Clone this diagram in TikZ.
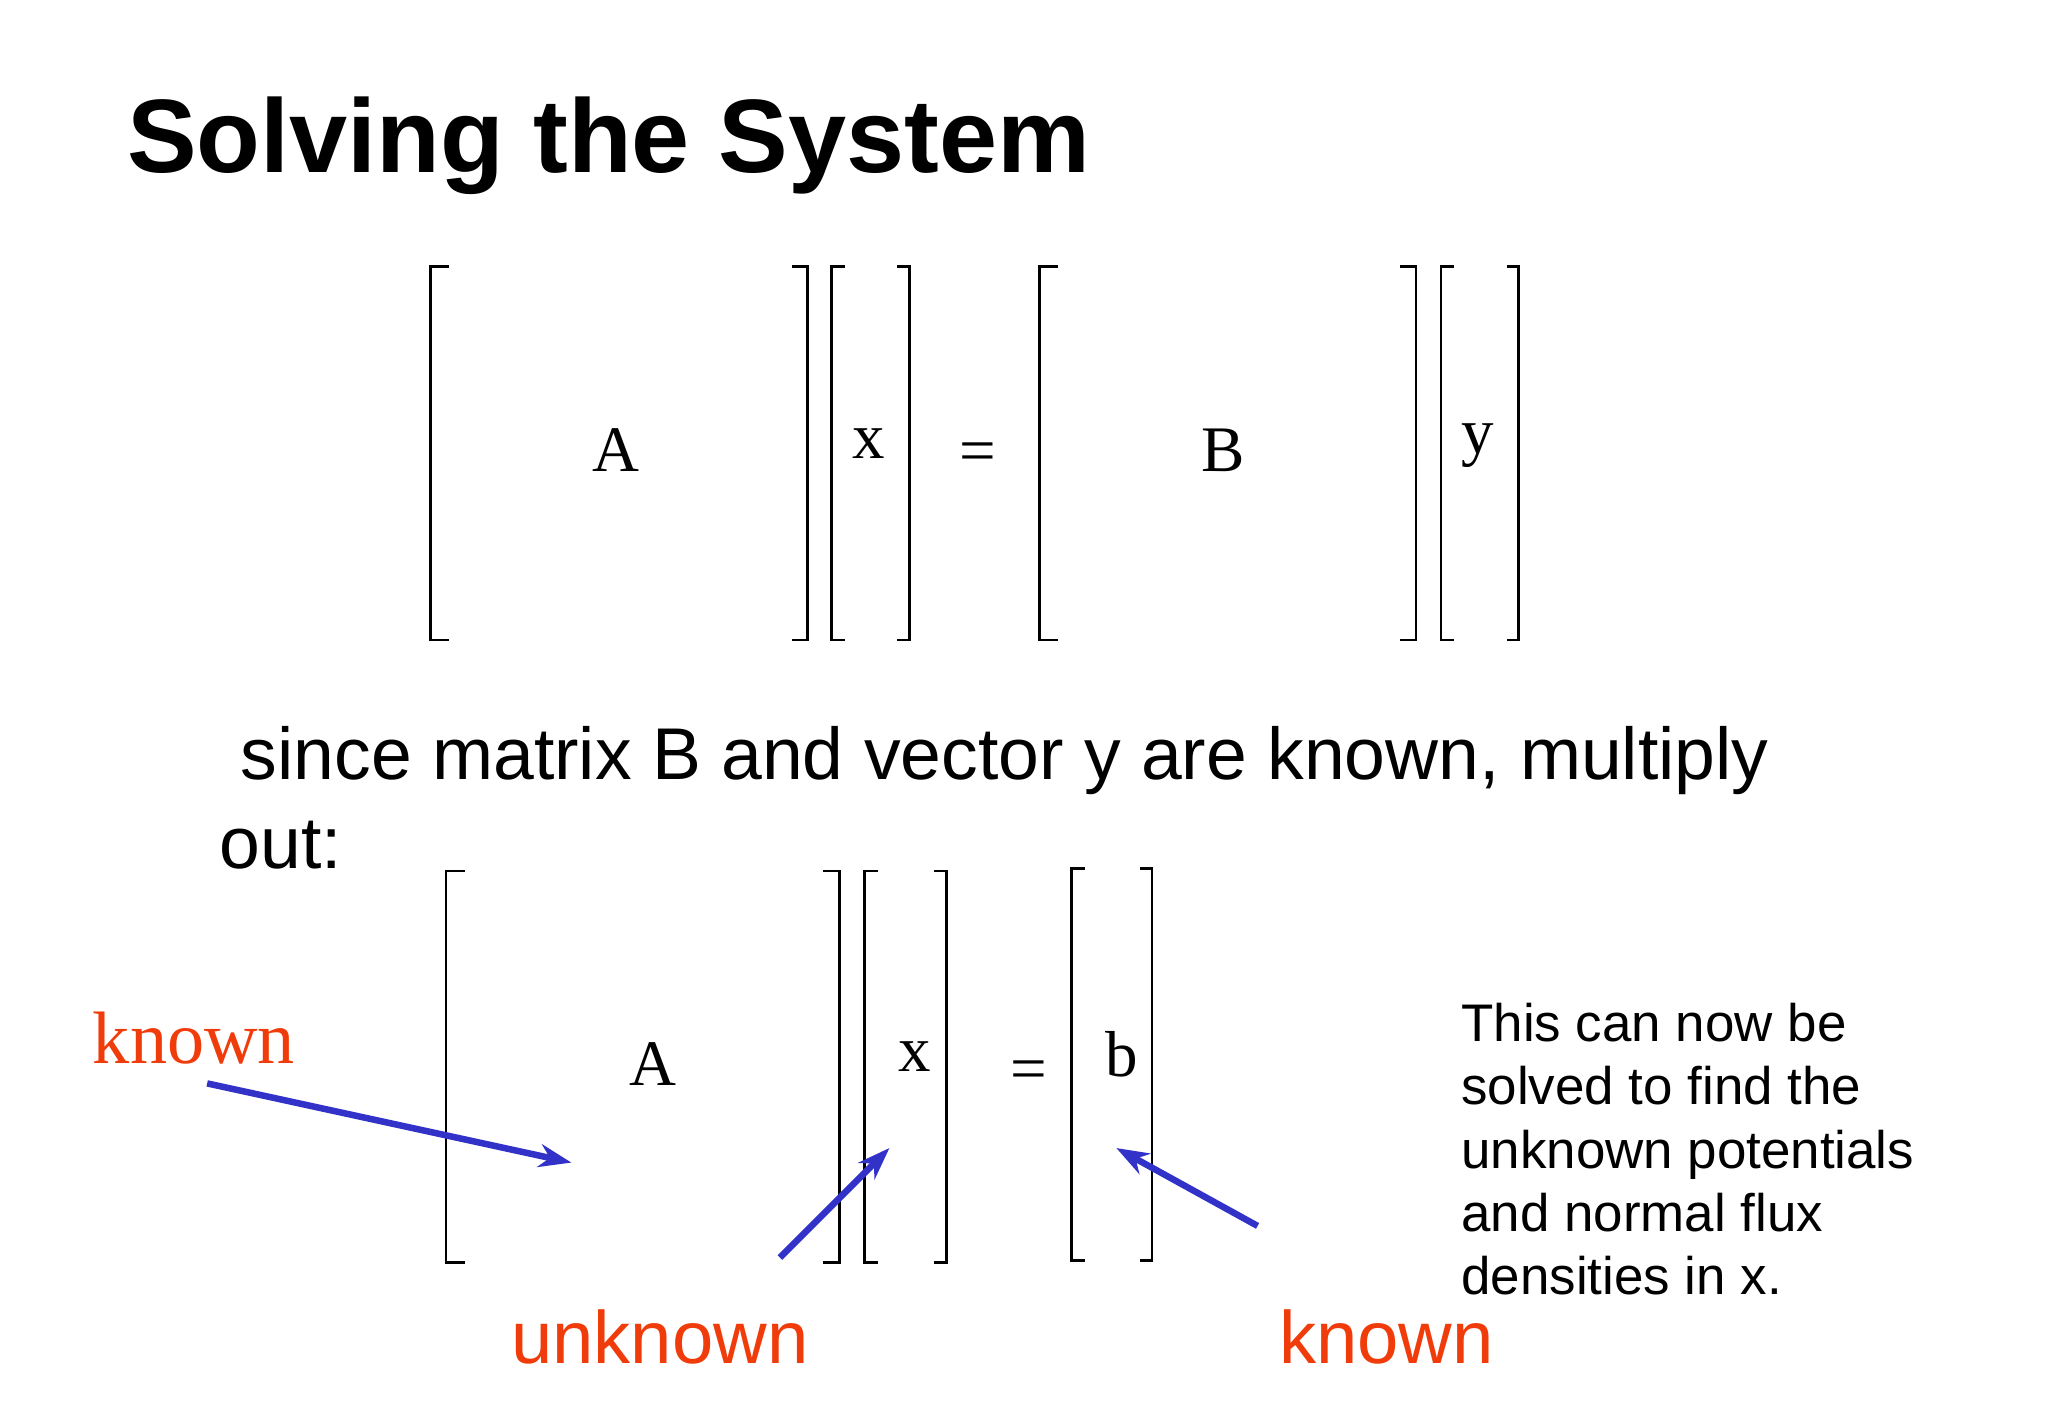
\documentclass[tikz,border=0pt]{standalone}
\usepackage{fontspec}
\usetikzlibrary{arrows.meta}
\setmainfont{Liberation Sans}
\newfontfamily\serifx{Liberation Serif}
\definecolor{kred}{RGB}{240,60,10}
\definecolor{ablue}{RGB}{50,50,200}
\begin{document}
\begin{tikzpicture}[x=0.01cm,y=-0.01cm,
  brk/.style={line width=0.6pt},
  mlab/.style={font=\serifx\fontsize{14}{14}\selectfont},
  arr/.style={ablue,line width=1.4pt,-{Stealth[length=7pt,width=5pt]}}]
\useasboundingbox (0,0) rectangle (1552,1075);
\node[anchor=base west,font=\bfseries\fontsize{22.5}{22.5}\selectfont] (title) at (84,131) {Solving the System};
% top equation
\newcommand\lbr[4]{\draw[brk] (#1+#4,#2)--(#1,#2)--(#1,#3)--(#1+#4,#3);}
\lbr{326}{202}{485}{14}
\lbr{612}{202}{485}{-12}
\lbr{630}{202}{485}{10}
\lbr{689}{202}{485}{-9}
\lbr{788}{202}{485}{14}
\lbr{1073}{202}{485}{-12}
\lbr{1092}{202}{485}{10}
\lbr{1151}{202}{485}{-9}
\node[mlab] (A1) at (467,341) {A};
\node[mlab] (x1) at (658,336) {x};
\node[mlab] (eq1) at (741,347) {=};
\node[mlab] (B1) at (927,341) {B};
\node[mlab] (y1) at (1120,338) {y};
\node[anchor=base west,font=\fontsize{15.8}{15.8}\selectfont] (t1) at (170,591) {since matrix B and vector y are known, multiply};
\node[anchor=base west,font=\fontsize{15.8}{15.8}\selectfont] (t2) at (154,658) {out:};
% bottom equation
\lbr{338}{660}{957}{14}
\lbr{636}{660}{957}{-12}
\lbr{655}{660}{957}{10}
\lbr{717}{660}{957}{-9}
\lbr{812}{658}{955}{10}
\lbr{873}{658}{955}{-9}
\node[mlab] (A2) at (495,806) {A};
\node[mlab] (x2) at (693,801) {x};
\node[mlab] (eq2) at (780,815) {=};
\node[mlab] (b2) at (850,799) {b};
\node[anchor=base west,kred,font=\serifx\fontsize{16}{16}\selectfont] (k1) at (58,806) {known};
\node[anchor=base west,kred,font=\fontsize{16}{16}\selectfont] (u1) at (375,1033) {unknown};
\node[anchor=base west,kred,font=\fontsize{16}{16}\selectfont] (k2) at (957,1033) {known};
\coordinate (s1) at (157,821); \coordinate (e1) at (433,881);
\coordinate (s2) at (591,953); \coordinate (e2) at (674,870);
\coordinate (s3) at (953,929); \coordinate (e3) at (846,870);
\draw[arr] (s1)--(e1);
\draw[arr] (s2)--(e2);
\draw[arr] (s3)--(e3);
\node[anchor=north west,align=left,font=\fontsize{11.4}{13.6}\selectfont] (note) at (1095,748)
 {This can now be\\solved to find the\\unknown potentials\\and normal flux\\densities in x.};
\end{tikzpicture}
\end{document}
